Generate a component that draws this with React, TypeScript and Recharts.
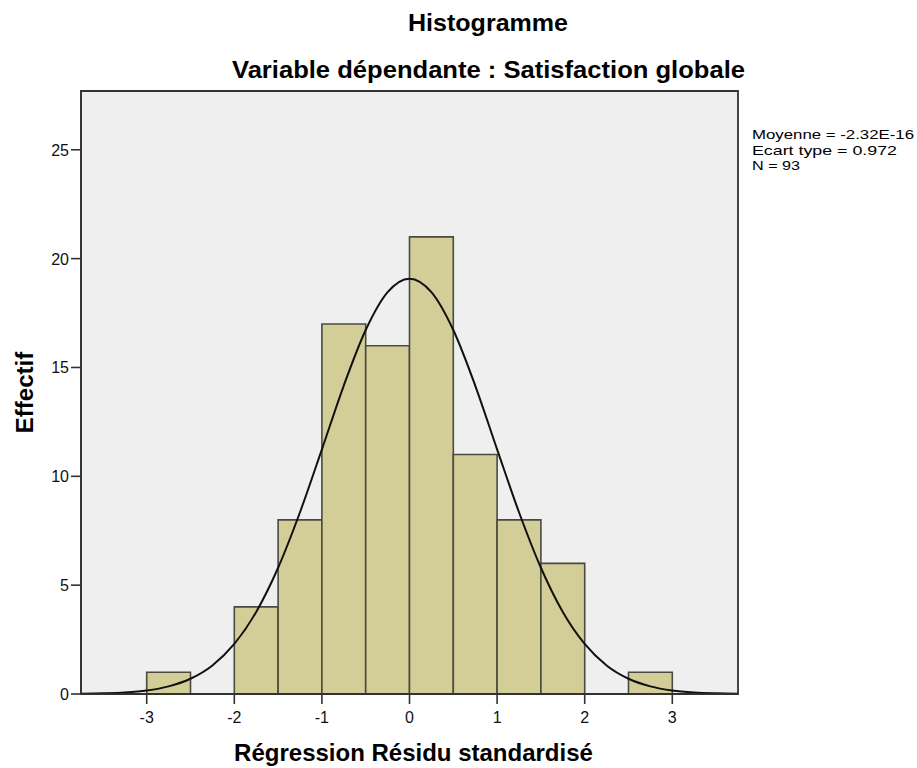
import React from 'react';
import {
  ComposedChart,
  Line,
  XAxis,
  YAxis,
  ReferenceArea,
  CartesianGrid,
} from 'recharts';

// Histogram bins (left edges, width 0.5) and counts
const binStarts = [-3, -2.5, -2, -1.5, -1, -0.5, 0, 0.5, 1, 1.5, 2, 2.5];
const binCounts = [1, 0, 4, 8, 17, 16, 21, 11, 8, 6, 0, 1];
const binWidth = 0.5;

// Normal curve
const curveX = [
  -3.75, -3.5, -3.25, -3, -2.75, -2.5, -2.25, -2, -1.75, -1.5, -1.25, -1, -0.75, -0.5, -0.25,
  0, 0.25, 0.5, 0.75, 1, 1.25, 1.5, 1.75, 2, 2.25, 2.5, 2.75, 3, 3.25, 3.5, 3.75,
];
const curveY = [
  0.01, 0.03, 0.07, 0.16, 0.35, 0.7, 1.31, 2.3, 3.77, 5.8, 8.35, 11.24, 14.17, 16.72, 18.46,
  19.08, 18.46, 16.72, 14.17, 11.24, 8.35, 5.8, 3.77, 2.3, 1.31, 0.7, 0.35, 0.16, 0.07, 0.03, 0.01,
];

const xDomain = [-3.75, 3.75];
const yDomain = [0, 27.7];
const xTicks = [-3, -2, -1, 0, 1, 2, 3];
const yTicks = [0, 5, 10, 15, 20, 25];

const titleText = 'Histogramme';
const subtitleText = 'Variable dépendante : Satisfaction globale';
const xLabel = 'Régression Résidu standardisé';
const yLabel = 'Effectif';
const statsLines = ['Moyenne = -2.32E-16', 'Ecart type = 0.972', 'N = 93'];
const statsWidths = [162, 145, 48];

const chartData = curveX.map((x, i) => ({ x, curve: curveY[i] }));

const FONT = '"Liberation Sans", Arial, sans-serif';
const AXIS_COLOR = '#333333';

const XTick = (props: any) => {
  const { x, y, payload } = props;
  return (
    <text x={x} y={y} dy={12} textAnchor="middle" fontSize={16} fontFamily={FONT} fill="#111">
      {payload.value}
    </text>
  );
};

const YTick = (props: any) => {
  const { x, y, payload } = props;
  return (
    <text x={x} y={y} dy={6} textAnchor="end" fontSize={16} fontFamily={FONT} fill="#111">
      {payload.value}
    </text>
  );
};

export default function App() {
  return (
    <div
      style={{
        position: 'absolute',
        left: 0,
        top: 0,
        width: 917,
        height: 768,
        background: '#ffffff',
        fontFamily: FONT,
      }}
    >
      <ComposedChart
        width={917}
        height={768}
        data={chartData}
        margin={{ top: 91, right: 179, bottom: 34, left: 0 }}
        style={{ fontFamily: FONT }}
      >
        <CartesianGrid fill="#efefef" horizontal={false} vertical={false} />
        {binStarts.map((s, i) =>
          binCounts[i] > 0 ? (
            <ReferenceArea
              key={i}
              x1={s}
              x2={s + binWidth}
              y1={0}
              y2={binCounts[i]}
              fill="#d3ce97"
              fillOpacity={1}
              stroke="#4a4a40"
              strokeWidth={1.6}
              ifOverflow="visible"
            />
          ) : null
        )}
        <ReferenceArea
          x1={xDomain[0]}
          x2={xDomain[1]}
          y1={yDomain[0]}
          y2={yDomain[1]}
          fill="none"
          fillOpacity={0}
          stroke={AXIS_COLOR}
          strokeWidth={1.8}
          ifOverflow="visible"
        />
        <XAxis
          dataKey="x"
          type="number"
          domain={xDomain}
          ticks={xTicks}
          allowDataOverflow
          height={40}
          tickSize={10}
          tickMargin={7}
          axisLine={{ stroke: AXIS_COLOR, strokeWidth: 1.6 }}
          tickLine={{ stroke: AXIS_COLOR, strokeWidth: 1.6 }}
          tick={<XTick />}
          label={{
            value: xLabel,
            position: 'bottom',
            offset: 10,
            dx: 4,
            style: { fill: '#000', fontSize: 24, fontWeight: 'bold', fontFamily: FONT },
          }}
        />
        <YAxis
          type="number"
          domain={yDomain}
          ticks={yTicks}
          allowDataOverflow
          width={81}
          tickSize={10}
          tickMargin={2}
          axisLine={{ stroke: AXIS_COLOR, strokeWidth: 1.6 }}
          tickLine={{ stroke: AXIS_COLOR, strokeWidth: 1.6 }}
          tick={<YTick />}
          label={{
            value: yLabel,
            angle: -90,
            position: 'insideLeft',
            offset: 24,
            style: {
              textAnchor: 'middle',
              fill: '#000',
              fontSize: 24,
              fontWeight: 'bold',
              fontFamily: FONT,
            },
          }}
        />
        <Line
          type="monotone"
          dataKey="curve"
          stroke="#111"
          strokeWidth={2}
          dot={false}
          activeDot={false}
          isAnimationActive={false}
        />
      </ComposedChart>
      <svg
        width={917}
        height={768}
        style={{ position: 'absolute', left: 0, top: 0, pointerEvents: 'none' }}
      >
        <text
          x={488}
          y={31}
          textAnchor="middle"
          fontSize={24}
          fontWeight="bold"
          fontFamily={FONT}
          fill="#000"
          textLength={160}
          lengthAdjust="spacingAndGlyphs"
        >
          {titleText}
        </text>
        <text
          x={488.5}
          y={78}
          textAnchor="middle"
          fontSize={24}
          fontWeight="bold"
          fontFamily={FONT}
          fill="#000"
          textLength={513}
          lengthAdjust="spacingAndGlyphs"
        >
          {subtitleText}
        </text>
        {statsLines.map((t, i) => (
          <text
            key={i}
            x={752}
            y={139 + i * 15.5}
            fontSize={13.5}
            fontFamily={FONT}
            fill="#000"
            textLength={statsWidths[i]}
            lengthAdjust="spacingAndGlyphs"
          >
            {t}
          </text>
        ))}
      </svg>
    </div>
  );
}
